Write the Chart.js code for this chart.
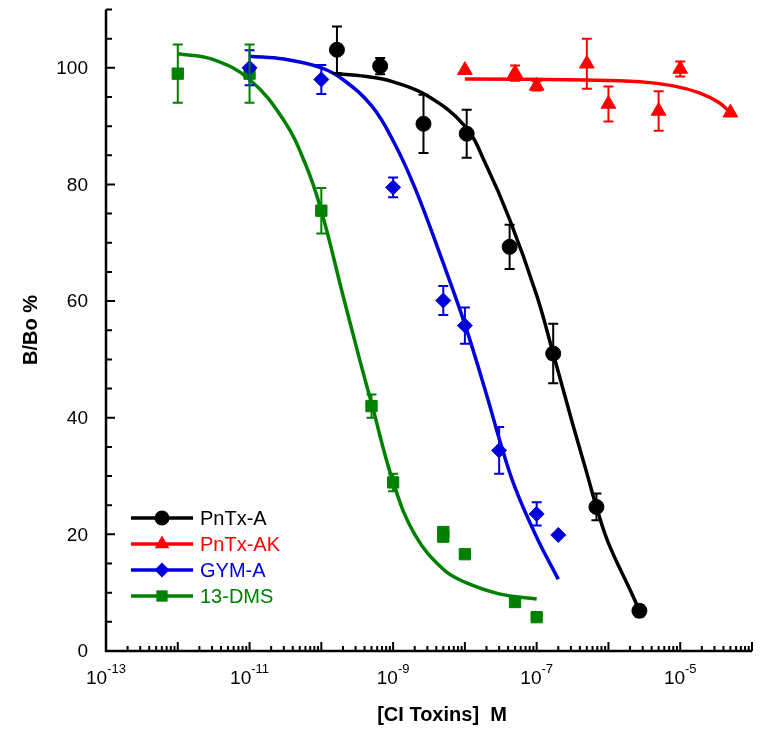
<!DOCTYPE html>
<html>
<head>
<meta charset="utf-8">
<script src="https://cdn.jsdelivr.net/npm/chart.js@4.4.0/dist/chart.umd.min.js"></script>
<style>
  html, body { margin: 0; padding: 0; background: #fff; }
  #wrap { width: 763px; height: 734px; position: relative; }
</style>
</head>
<body>
<div id="wrap"><canvas id="doseChart"></canvas></div>
<script>
(() => {
  'use strict'

  // Datos (concentración en M, B/Bo %)
  const pntxA_x = [1.65e-10, 6.6e-10, 2.65e-9, 1.06e-8, 4.2e-8, 1.7e-7, 6.8e-7, 2.7e-6]
  const pntxA_y = [103.1, 100.3, 90.4, 88.7, 69.3, 51.0, 24.7, 6.9]
  const pntxA_err = [4.0, 1.4, 5.0, 4.1, 3.8, 5.1, 2.3, 1.0]

  const pntxAK_x = [1e-8, 5e-8, 1e-7, 5e-7, 1e-6, 5e-6, 1e-5, 5e-5]
  const pntxAK_y = [99.6, 99.1, 96.9, 100.7, 93.8, 92.6, 99.8, 92.3]
  const pntxAK_err = [0, 1.3, 0.8, 4.3, 3.0, 3.4, 1.3, 0]

  const gymA_x = [1e-11, 1e-10, 1e-9, 5e-9, 1e-8, 3e-8, 1e-7, 2e-7]
  const gymA_y = [100, 98, 79.5, 60.1, 55.8, 34.4, 23.5, 19.9]
  const gymA_err = [3.0, 2.5, 1.7, 2.5, 3.1, 4.0, 2.0, 0]

  const dms_x = [1e-12, 1e-11, 1e-10, 5e-10, 1e-9, 5e-9, 5e-9, 1e-8, 5e-8, 1e-7]
  const dms_y = [99, 99, 75.5, 42, 28.9, 20.4, 19.6, 16.6, 8.4, 5.8]
  const dms_err = [5.0, 5.0, 3.9, 2.0, 1.5, 0, 0, 0, 0, 0]

  // Curvas de ajuste (puntos leídos sobre las líneas)
  const pntxA_fit_x = [1.65e-10, 5e-10, 1e-9, 3e-9, 1e-8, 2e-8, 4.2e-8, 1e-7, 1.7e-7, 3.16e-7, 5e-7, 6.8e-7, 1e-6, 2e-6, 2.7e-6]
  const pntxA_fit_y = [99, 98.4, 97.6, 95.2, 90, 83.2, 74, 61, 51, 39, 30.5, 24.7, 18.5, 10.5, 7]

  const pntxAK_fit_x = [1e-8, 5e-7, 2.75e-6, 8e-6, 1.85e-5, 3.5e-5, 5e-5]
  const pntxAK_fit_y = [98.1, 97.9, 97.6, 96.9, 95.7, 94.0, 92.3]

  const gymA_fit_x = [1e-11, 3e-11, 1e-10, 2e-10, 5e-10, 1e-9, 2e-9, 5e-9, 1e-8, 2e-8, 3.16e-8, 5e-8, 1e-7, 2e-7]
  const gymA_fit_y = [102, 101.5, 100, 98, 93.5, 87.5, 79.5, 66.5, 56, 44, 35.5, 28, 19.5, 12.3]

  const dms_fit_x = [1e-12, 3e-12, 1e-11, 3e-11, 6e-11, 1e-10, 2e-10, 3.5e-10, 5e-10, 1e-9, 2e-9, 5e-9, 1e-8, 3e-8, 1e-7]
  const dms_fit_y = [102.4, 101.5, 98, 91, 83.5, 75.5, 61, 49.5, 42.5, 29, 20, 14, 11.8, 9.8, 8.9]

  const yTickLabels = [0, 20, 40, 60, 80, 100]
  const xTickExponents = [-13, -11, -9, -7, -5]

  const series = [
    { label: 'PnTx-A', color: '#000000', style: 'circle', radius: 7.5, x: pntxA_x, y: pntxA_y, err: pntxA_err, fx: pntxA_fit_x, fy: pntxA_fit_y },
    { label: 'PnTx-AK', color: '#ff0000', style: 'triangle', radius: 8.5, x: pntxAK_x, y: pntxAK_y, err: pntxAK_err, fx: pntxAK_fit_x, fy: pntxAK_fit_y },
    { label: 'GYM-A', color: '#0000dd', style: 'rectRot', radius: 7.5, x: gymA_x, y: gymA_y, err: gymA_err, fx: gymA_fit_x, fy: gymA_fit_y },
    { label: '13-DMS', color: '#008000', style: 'rect', radius: 8, x: dms_x, y: dms_y, err: dms_err, fx: dms_fit_x, fy: dms_fit_y }
  ]

  const toPts = (xs, ys) => xs.map((v, i) => ({ x: v, y: ys[i] }))

  const datasets = []
  series.forEach(s => {
    datasets.push({
      label: s.label + ' fit',
      data: toPts(s.fx, s.fy),
      showLine: true,
      borderColor: s.color,
      borderWidth: 3.5,
      pointRadius: 0,
      tension: 0.4,
      fill: false
    })
  })
  series.forEach(s => {
    datasets.push({
      label: s.label,
      data: toPts(s.x, s.y),
      showLine: false,
      pointStyle: s.style,
      pointRadius: s.radius,
      pointBackgroundColor: s.color,
      pointBorderColor: s.color,
      pointBorderWidth: 1
    })
  })

  // Barras de error
  const errorBars = {
    id: 'errorBars',
    afterDatasetsDraw(chart) {
      const { ctx, scales: { x, y } } = chart
      ctx.save()
      ctx.lineWidth = 2
      series.forEach(s => {
        ctx.strokeStyle = s.color
        s.x.forEach((xv, i) => {
          const e = s.err[i]
          if (!e) return
          const px = x.getPixelForValue(xv)
          const top = y.getPixelForValue(s.y[i] + e)
          const bot = y.getPixelForValue(s.y[i] - e)
          ctx.beginPath()
          ctx.moveTo(px, top); ctx.lineTo(px, bot)
          ctx.moveTo(px - 5, top); ctx.lineTo(px + 5, top)
          ctx.moveTo(px - 5, bot); ctx.lineTo(px + 5, bot)
          ctx.stroke()
        })
      })
      ctx.restore()
    }
  }

  function marker(ctx, style, x, y, r) {
    ctx.beginPath()
    if (style === 'circle') {
      ctx.arc(x, y, r, 0, Math.PI * 2)
    } else if (style === 'triangle') {
      ctx.moveTo(x, y - r)
      ctx.lineTo(x + r * 0.866, y + r * 0.5)
      ctx.lineTo(x - r * 0.866, y + r * 0.5)
      ctx.closePath()
    } else if (style === 'rectRot') {
      ctx.moveTo(x, y - r); ctx.lineTo(x + r, y); ctx.lineTo(x, y + r); ctx.lineTo(x - r, y)
      ctx.closePath()
    } else {
      const h = r * Math.SQRT1_2
      ctx.rect(x - h, y - h, 2 * h, 2 * h)
    }
    ctx.fill()
  }

  // Ejes, marcas, etiquetas, títulos y leyenda
  const axesPlugin = {
    id: 'axesPlugin',
    afterDraw(chart) {
      const { ctx, chartArea: a, scales: { x, y } } = chart
      ctx.save()
      ctx.strokeStyle = '#000'
      ctx.fillStyle = '#000'

      // líneas de eje
      ctx.lineWidth = 2.5
      ctx.beginPath()
      ctx.moveTo(a.left, a.top)
      ctx.lineTo(a.left, a.bottom)
      ctx.lineTo(a.right, a.bottom)
      ctx.stroke()

      // marcas del eje y (hacia dentro)
      ctx.lineWidth = 2
      ctx.beginPath()
      for (let v = 0; v <= 110; v += 5) {
        const py = y.getPixelForValue(v)
        const len = v % 20 === 0 ? 9 : 6
        ctx.moveTo(a.left, py); ctx.lineTo(a.left + len, py)
      }
      ctx.stroke()

      // marcas del eje x logarítmico
      ctx.beginPath()
      for (let d = -13; d <= -4; d++) {
        for (let m = 1; m <= 9; m++) {
          if (d === -4 && m > 1) break
          const px = x.getPixelForValue(m * Math.pow(10, d))
          const len = m === 1 ? 9 : 5
          ctx.moveTo(px, a.bottom); ctx.lineTo(px, a.bottom - len)
        }
      }
      ctx.stroke()

      // etiquetas y
      ctx.font = '19px "Liberation Sans", Arial, sans-serif'
      ctx.textAlign = 'right'
      ctx.textBaseline = 'middle'
      yTickLabels.forEach(v => {
        ctx.fillText(String(v), 88, y.getPixelForValue(v) + 1)
      })

      // etiquetas x con superíndice
      ctx.textAlign = 'left'
      ctx.textBaseline = 'alphabetic'
      xTickExponents.forEach(ex => {
        const px = x.getPixelForValue(Math.pow(10, ex))
        ctx.font = '19px "Liberation Sans", Arial, sans-serif'
        const w1 = ctx.measureText('10').width
        ctx.font = '13px "Liberation Sans", Arial, sans-serif'
        const sup = String(ex)
        const w2 = ctx.measureText(sup).width
        const x0 = px - (w1 + w2) / 2
        ctx.font = '19px "Liberation Sans", Arial, sans-serif'
        ctx.fillText('10', x0, 684)
        ctx.font = '13px "Liberation Sans", Arial, sans-serif'
        ctx.fillText(sup, x0 + w1, 673)
      })

      // títulos de ejes
      ctx.font = 'bold 20px "Liberation Sans", Arial, sans-serif'
      ctx.textAlign = 'center'
      ctx.textBaseline = 'middle'
      ctx.fillText('[CI Toxins]  M', 442, 715)
      ctx.save()
      ctx.translate(31, 330)
      ctx.rotate(-Math.PI / 2)
      ctx.fillText('B/Bo %', 0, 0)
      ctx.restore()

      // leyenda
      ctx.font = '20px "Liberation Sans", Arial, sans-serif'
      ctx.textAlign = 'left'
      series.forEach((s, i) => {
        const ly = 518 + i * 26
        ctx.strokeStyle = s.color
        ctx.fillStyle = s.color
        ctx.lineWidth = 3.5
        ctx.beginPath()
        ctx.moveTo(131, ly); ctx.lineTo(193, ly)
        ctx.stroke()
        marker(ctx, s.style, 162, ly, s.radius)
        ctx.fillText(s.label, 200, ly + 1)
      })
      ctx.restore()
    }
  }

  new Chart(document.getElementById('doseChart'), {
    type: 'scatter',
    data: { datasets },
    options: {
      responsive: true,
      maintainAspectRatio: false,
      animation: false,
      layout: { padding: { left: 106, right: 11, top: 8, bottom: 83 } },
      plugins: {
        legend: { display: false },
        tooltip: { enabled: false }
      },
      scales: {
        x: { type: 'logarithmic', min: 1e-13, max: 1e-4, display: false },
        y: { type: 'linear', min: 0, max: 110, display: false }
      }
    },
    plugins: [errorBars, axesPlugin]
  })
})()
</script>
</body>
</html>
